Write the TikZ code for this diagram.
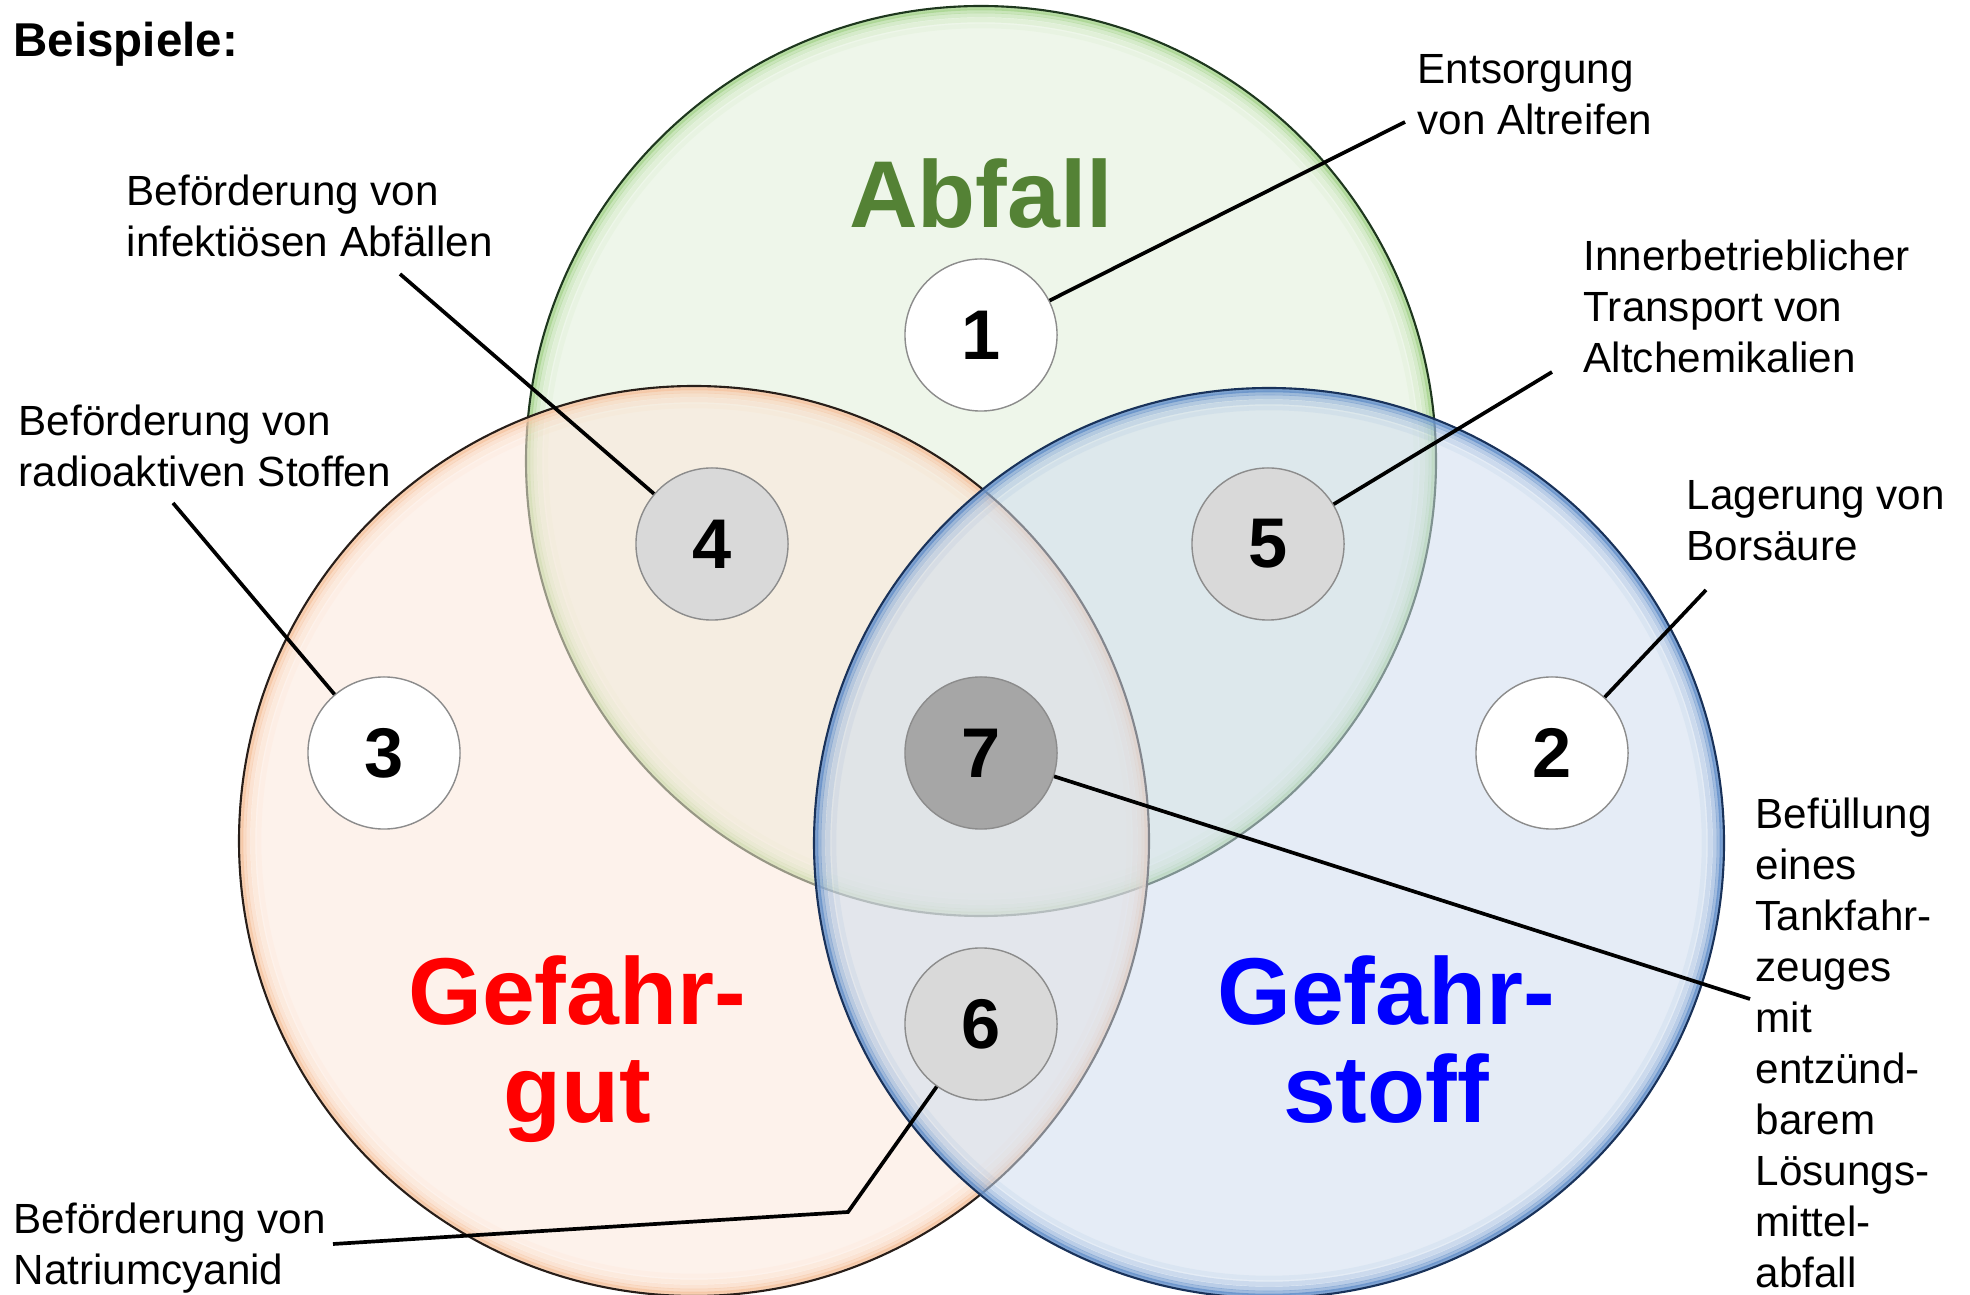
\documentclass[tikz,border=0pt]{standalone}
\usepackage{fontspec}
\setmainfont{Liberation Sans}
\definecolor{abfallgreen}{RGB}{84,130,53}
\definecolor{fillgreen}{RGB}{224,239,216}
\definecolor{rimgreen}{RGB}{165,212,140}
\definecolor{linegreen}{RGB}{30,55,30}
\definecolor{fillorange}{RGB}{252,231,218}
\definecolor{rimorange}{RGB}{246,196,160}
\definecolor{lineorange}{RGB}{40,30,25}
\definecolor{fillblue}{RGB}{207,221,238}
\definecolor{rimblue}{RGB}{95,140,200}
\definecolor{lineblue}{RGB}{25,50,90}

\begin{document}
\begin{tikzpicture}[x=0.01cm,y=-0.01cm,
    note/.style={anchor=north west,inner sep=0pt,align=left,font=\fontsize{12}{14.5}\selectfont},
    bigtext/.style={inner sep=0pt,align=center,font=\bfseries\fontsize{27}{28}\selectfont},
    leader/.style={draw,line width=1.05pt}]

  \useasboundingbox (0,0) rectangle (1970,1295);

  % the three sets
  \foreach \cx/\cy/\col in {981/461/green,694/841/orange,1269/843/blue}{
    \fill[fill\col,fill opacity=0.55] (\cx,\cy) circle[radius=455];
    \foreach \d/\o in {2/0.75,5/0.5,9/0.32,14/0.18,20/0.08}
      \draw[rim\col,line width=1.3pt,draw opacity=\o] (\cx,\cy) circle[radius=455-\d];
    \draw[line\col,line width=0.6pt] (\cx,\cy) circle[radius=455];
  }

  \node[bigtext,text=abfallgreen] (abfall) at (981,194) {Abfall};
  \node[bigtext,text=red,anchor=north] (gut) at (577,955) {Gefahr-\\gut};
  \node[bigtext,text=blue,anchor=north] (stoff) at (1386,955) {Gefahr-\\stoff};

  \begin{scope}[every node/.style={circle,draw=black!45,line width=0.4pt,minimum size=1.52cm,
      inner sep=0pt,font=\bfseries\fontsize{20}{24}\selectfont}]
    \node[fill=white]    (1) at (981,335)  {1};
    \node[fill=white]    (2) at (1552,753) {2};
    \node[fill=white]    (3) at (384,753)  {3};
    \node[fill=black!15] (4) at (712,544)  {4};
    \node[fill=black!15] (5) at (1268,544) {5};
    \node[fill=black!15] (6) at (981,1024) {6};
    \node[fill=black!35] (7) at (981,753)  {7};
  \end{scope}

  \node[anchor=north west,inner sep=0pt,font=\bfseries\fontsize{13.5}{16}\selectfont] (title) at (13,21) {Beispiele:};

  \node[note] (l1) at (1417,54)  {Entsorgung\\von Altreifen};
  \node[note] (l2) at (1686,480) {Lagerung von\\Borsäure};
  \node[note] (l3) at (18,404)   {Beförderung von\\radioaktiven Stoffen};
  \node[note] (l4) at (126,174)  {Beförderung von\\infektiösen Abfällen};
  \node[note] (l5) at (1583,239) {Innerbetrieblicher\\Transport von\\Altchemikalien};
  \node[note] (l6) at (13,1202)  {Beförderung von\\Natriumcyanid};
  \node[note] (l7) at (1755,797) {Befüllung\\eines\\Tankfahr-\\zeuges\\mit\\entzünd-\\barem\\Lösungs-\\mittel-\\abfall};

  \coordinate (e1) at (1405,122);
  \coordinate (e2) at (1706,590);
  \coordinate (e3) at (173,503);
  \coordinate (e4) at (400,274);
  \coordinate (e5) at (1552,372);
  \coordinate (k6) at (848,1212);
  \coordinate (e6) at (333,1244);
  \coordinate (e7) at (1750,999);

  \path (1) edge[leader] (e1);
  \path (2) edge[leader] (e2);
  \path (3) edge[leader] (e3);
  \path (4) edge[leader] (e4);
  \path (5) edge[leader] (e5);
  \path (7) edge[leader] (e7);
  \draw[leader] (6) -- (k6) -- (e6);

\end{tikzpicture}
\end{document}
